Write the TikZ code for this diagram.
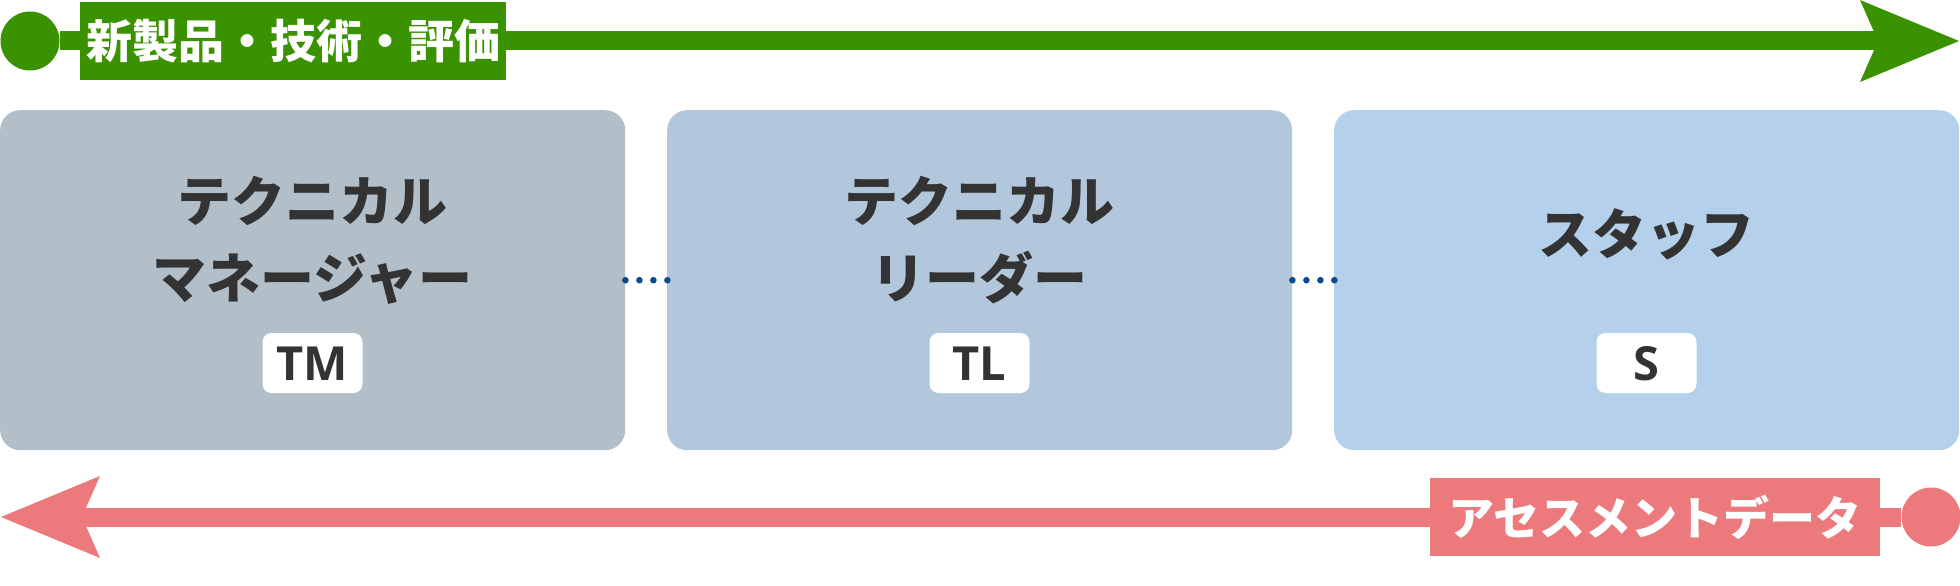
\documentclass[tikz,border=0pt]{standalone}
\usepackage{fontspec}
\newfontfamily\jpfont{Noto Sans CJK JP}
\newfontfamily\tagfont{Open Sans}
\usetikzlibrary{arrows.meta,positioning}
\definecolor{newgreen}{HTML}{3A9200}
\definecolor{asspink}{HTML}{EC797B}
\definecolor{tmgray}{HTML}{B2BEC8}
\definecolor{tlblue}{HTML}{B2C7DC}
\definecolor{sblue}{HTML}{B4D0EA}
\definecolor{dotblue}{HTML}{0B4A8B}
\definecolor{textgray}{HTML}{333333}

\begin{document}
\begin{tikzpicture}[x=1pt,y=-1pt,
  role/.style={rectangle, anchor=north west, minimum width=625pt, minimum height=340pt, inner sep=0pt, rounded corners=20pt},
  rolename/.style={align=center, text=textgray, font=\jpfont\bfseries\fontsize{54}{77}\selectfont},
  tag/.style={rectangle, fill=white, rounded corners=9pt, minimum width=100pt, minimum height=60pt, inner sep=0pt, text=textgray, text height=34pt, text depth=0pt, font=\tagfont\bfseries\fontsize{47}{47}\selectfont},
  enddot/.style={circle, minimum size=59pt, inner sep=0pt},
  flowlabel/.style={rectangle, minimum height=78pt, inner sep=0pt, text=white, font=\jpfont\bfseries\fontsize{46}{46}\selectfont},
  flow/.style={line width=19pt},
  etc/.style={dotblue, line width=6.6pt, line cap=round, dash pattern=on 0pt off 14pt, shorten >=-1pt}
]

\useasboundingbox (0,0) rectangle (1960,586);

\node[role, fill=tmgray] (tm) at (0,110) {};
\node[role, fill=tlblue] (tl) at (667,110) {};
\node[role, fill=sblue] (st) at (1334,110) {};

\node[rolename] (tmname) at (312.5,240) {テクニカル\\マネージャー};
\node[rolename] (tlname) at (979.5,240) {テクニカル\\リーダー};
\node[rolename] (stname) at (1646.5,234) {スタッフ};

\node[tag] (tmtag) at (312.5,363) {TM};
\node[tag] (tltag) at (979.5,363) {TL};
\node[tag] (sttag) at (1646.5,363) {S};

\draw[etc] (tm.east) -- (tl.west);
\draw[etc] (tl.east) -- (st.west);

\node[enddot, fill=newgreen] (newdot) at (30,41) {};
\node[flowlabel, fill=newgreen, minimum width=426pt] (newlabel) at (293,41) {新製品・技術・評価};
\coordinate (newtip) at (1959,41);
\draw[flow, newgreen] (newdot) -- (newlabel);
\draw[flow, newgreen, -{Stealth[length=99pt, width=82pt, inset=18pt, line width=0pt]}] (newlabel) -- (newtip);

\node[enddot, fill=asspink] (assdot) at (1931,517) {};
\node[flowlabel, fill=asspink, minimum width=450pt] (asslabel) at (1655,517) {アセスメントデータ};
\coordinate (asstip) at (1,517);
\draw[flow, asspink] (assdot) -- (asslabel);
\draw[flow, asspink, -{Stealth[length=99pt, width=82pt, inset=18pt, line width=0pt]}] (asslabel) -- (asstip);
\end{tikzpicture}
\end{document}
